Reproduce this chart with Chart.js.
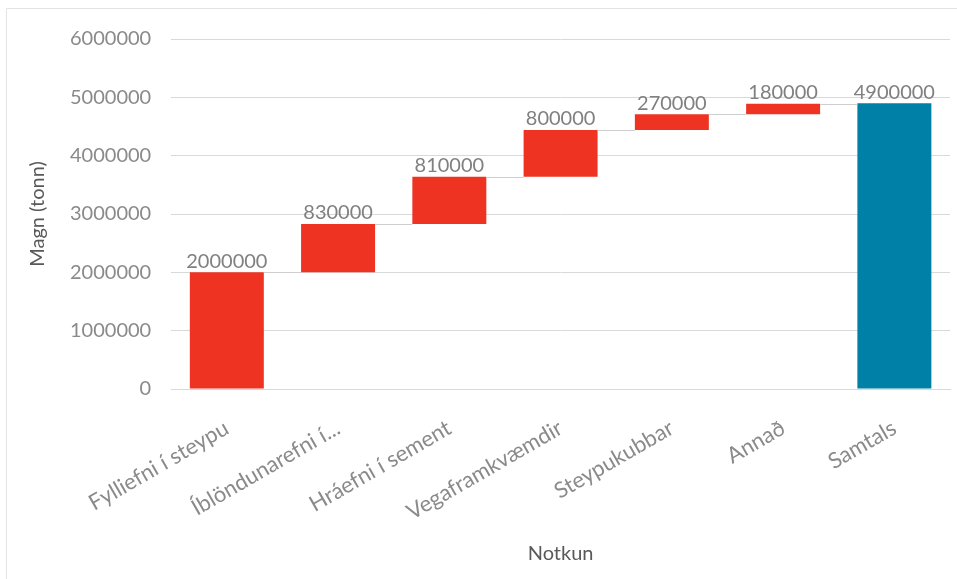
<!DOCTYPE html>
<html>
<head>
<meta charset="utf-8">
<script src="https://cdn.jsdelivr.net/npm/chart.js@4.4.1/dist/chart.umd.min.js"></script>
<style>
  html, body { margin: 0; padding: 0; background: #fff; }
  #wrap { position: relative; width: 957px; height: 579px; }
</style>
</head>
<body>
<div id="wrap"><canvas id="myChart" width="957" height="579"></canvas></div>
<script>
var categories = ["Fylliefni í steypu", "Íblöndunarefni í...", "Hráefni í sement", "Vegaframkvæmdir", "Steypukubbar", "Annað", "Samtals"];
var amounts = [2000000, 830000, 810000, 800000, 270000, 180000];
var total = 4900000;
var yTicks = [0, 1000000, 2000000, 3000000, 4000000, 5000000, 6000000];

// floating bars for the waterfall, built from the amounts
var bars = [];
var labels = [];
var run = 0;
amounts.forEach(function (v) {
  bars.push([run, run + v]);
  labels.push(v);
  run += v;
});
bars.push([0, total]);
labels.push(total);

var colors = categories.map(function (c, i) {
  return i === categories.length - 1 ? "#0080a6" : "#ee3323";
});

var frame = {
  id: 'frame',
  beforeDraw: function (chart) {
    var c = chart.ctx;
    c.save();
    c.fillStyle = "#fff";
    c.fillRect(0, 0, chart.width, chart.height);
    c.strokeStyle = "#e3e3e3";
    c.lineWidth = 1;
    c.beginPath();
    c.moveTo(6.5, chart.height);
    c.lineTo(6.5, 8.5);
    c.lineTo(chart.width, 8.5);
    c.stroke();
    c.restore();
  }
};

var waterfall = {
  id: 'waterfall',
  afterDatasetsDraw: function (chart) {
    var c = chart.ctx;
    var meta = chart.getDatasetMeta(0);
    var y = chart.scales.y;
    c.save();
    // connector lines between bars
    c.strokeStyle = "#cfcfcf";
    c.lineWidth = 1;
    for (var i = 0; i < meta.data.length - 1; i++) {
      var a = meta.data[i], b = meta.data[i + 1];
      var py = Math.round(y.getPixelForValue(bars[i][1])) + 0.5;
      c.beginPath();
      c.moveTo(a.x + a.width / 2, py);
      c.lineTo(b.x - b.width / 2, py);
      c.stroke();
    }
    // value labels
    c.fillStyle = "#808080";
    c.font = "20px Lato";
    c.textAlign = "center";
    c.textBaseline = "bottom";
    meta.data.forEach(function (el, i) {
      var top = y.getPixelForValue(bars[i][1]);
      c.fillText(String(labels[i]), el.x, top - 1);
    });
    c.restore();
  }
};

new Chart(document.getElementById("myChart"), {
  type: 'bar',
  data: {
    labels: categories,
    datasets: [{
      data: bars,
      backgroundColor: colors,
      borderWidth: 0,
      barPercentage: 0.665,
      categoryPercentage: 1
    }]
  },
  options: {
    responsive: false,
    animation: false,
    devicePixelRatio: 1,
    layout: { padding: { top: 39, right: 7, bottom: 9, left: 22 } },
    plugins: {
      legend: { display: false },
      tooltip: { enabled: false }
    },
    scales: {
      x: {
        afterFit: function (s) { s.height = 181; },
        grid: { display: false, drawTicks: false },
        border: { color: "#d9d9d9" },
        ticks: {
          color: "#8a8a8a",
          font: { family: "Lato", size: 22 },
          minRotation: 30,
          maxRotation: 30,
          padding: 26
        },
        title: {
          display: true,
          text: "Notkun",
          color: "#595959",
          font: { family: "Lato", size: 20 },
          padding: { top: 4, bottom: 4 }
        }
      },
      y: {
        min: 0,
        max: 6000000,
        afterBuildTicks: function (s) {
          s.ticks = yTicks.map(function (v) { return { value: v }; });
        },
        grid: { color: "#d9d9d9", drawTicks: false },
        border: { display: false },
        ticks: {
          color: "#8a8a8a",
          font: { family: "Lato", size: 20 },
          padding: 20,
          callback: function (v) { return String(v); }
        },
        title: {
          display: true,
          text: "Magn (tonn)",
          color: "#595959",
          font: { family: "Lato", size: 20 },
          padding: { bottom: 0 }
        }
      }
    }
  },
  plugins: [frame, waterfall]
});
</script>
</body>
</html>
